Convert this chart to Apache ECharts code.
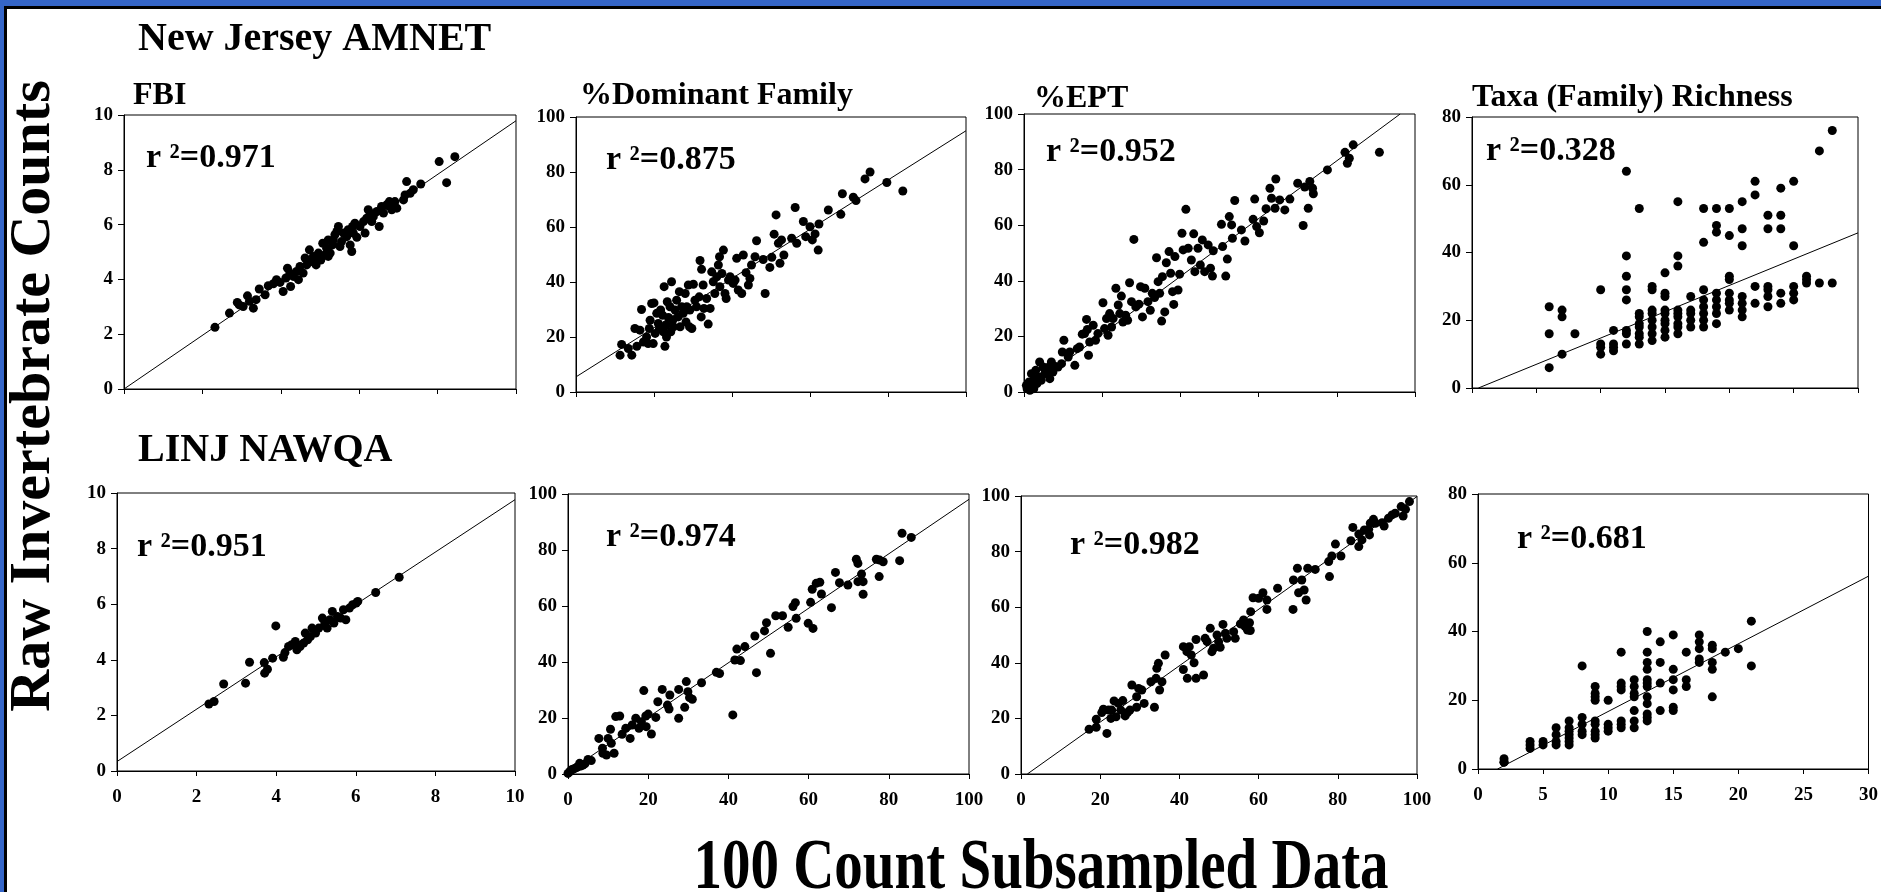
<!DOCTYPE html>
<html>
<head>
<meta charset="utf-8">
<title>Raw vs 100 count subsampled</title>
<script src="https://cdn.jsdelivr.net/npm/echarts@6/dist/echarts.min.js"></script>
<style>
html, body { margin: 0; padding: 0; }
#main { width: 1881px; height: 892px; }
</style>
</head>
<body>
<div id="main"></div>
<script>
// ---- data ----
const fbiNJ = [[2.32,2.25],[2.69,2.77],[2.89,3.16],[2.94,3.07],[3.04,3.01],[3.15,3.40],[3.20,3.20],[3.30,2.95],[3.37,3.26],[3.45,3.65],
  [3.60,3.44],[3.68,3.77],[3.81,3.84],[3.89,3.99],[3.98,3.89],[4.06,3.56],[4.13,4.05],[4.17,4.41],[4.23,4.23],[4.25,3.74],[4.32,4.11],
  [4.40,4.29],[4.45,3.99],[4.49,4.47],[4.57,4.23],[4.62,4.78],[4.66,4.53],[4.73,5.08],[4.79,4.65],[4.83,4.84],[4.90,4.53],[4.96,4.96],
  [4.96,4.71],[5.02,4.71],[5.07,5.32],[5.13,4.90],[5.17,5.14],[5.21,5.44],[5.21,4.84],[5.26,4.96],[5.32,5.26],[5.34,5.44],[5.38,5.63],
  [5.43,5.75],[5.47,5.93],[5.51,5.20],[5.55,5.38],[5.60,5.69],[5.68,5.56],[5.72,5.81],[5.77,5.26],[5.81,5.02],[5.83,5.93],[5.85,5.69],
  [5.89,6.05],[5.94,5.54],[6.02,5.93],[6.11,6.11],[6.15,5.69],[6.19,6.23],[6.23,6.54],[6.28,6.42],[6.32,6.11],[6.36,6.29],[6.45,6.48],
  [6.51,5.93],[6.57,6.66],[6.62,6.42],[6.70,6.72],[6.77,6.84],[6.79,6.66],[6.83,6.54],[6.91,6.84],[6.96,6.60],[7.13,6.90],[7.17,7.08],
  [7.21,7.57],[7.30,7.14],[7.38,7.27],[7.57,7.48],[8.04,8.30],[8.23,7.53],[8.44,8.48]];
const domNJ = [[11.3,13.4],[11.7,17.3],[13.4,15.8],[14.3,13.4],[15.1,23.1],[15.6,16.6],[16.4,22.5],[16.8,30.0],[17.3,18.2],[18.1,20.0],
  [18.5,17.6],[18.8,23.1],[19.0,26.1],[19.4,32.2],[19.8,17.6],[20.0,32.4],[20.3,21.3],[20.7,28.6],[21.1,24.9],[21.4,23.1],[21.7,29.8],
  [22.2,27.9],[22.4,21.9],[22.6,38.3],[22.8,16.6],[23.1,24.3],[23.2,20.0],[23.4,32.8],[23.7,27.1],[24.1,31.0],[24.3,21.9],[24.5,40.1],
  [24.8,26.1],[25.0,23.7],[25.4,29.8],[25.8,33.4],[26.2,27.3],[26.5,36.5],[26.7,23.7],[27.1,31.0],[27.5,28.6],[28.0,35.8],[28.2,25.5],
  [28.4,31.0],[28.8,38.9],[29.1,23.7],[29.2,29.8],[29.7,23.1],[30.1,39.2],[30.5,33.4],[30.9,31.0],[31.6,34.6],[31.8,47.8],[32.1,27.3],
  [32.2,44.6],[32.6,38.9],[32.8,30.4],[33.5,34.0],[33.9,24.7],[34.4,30.4],[34.8,43.7],[35.2,40.1],[35.6,35.8],[36.1,41.9],[36.5,46.2],
  [36.8,49.2],[36.9,38.3],[37.4,43.1],[37.8,51.6],[38.2,35.8],[38.5,34.0],[39.1,40.7],[39.5,41.9],[40.3,39.5],[40.8,40.7],[41.2,48.6],
  [41.6,37.1],[42.5,35.8],[42.9,49.8],[43.6,43.4],[44.2,38.9],[44.6,41.3],[45.0,46.2],[45.9,49.2],[46.3,55.0],[48.0,48.2],[48.5,35.8],
  [49.7,45.3],[50.2,49.0],[50.8,57.4],[51.3,64.4],[51.9,54.1],[52.3,46.8],[52.7,55.3],[53.3,49.8],[55.3,55.9],[56.2,67.1],[56.6,54.1],
  [58.3,62.0],[58.9,56.5],[60.0,60.1],[60.6,55.3],[61.3,57.5],[62.1,51.6],[62.3,61.1],[64.7,66.2],[67.9,64.6],[68.3,72.1],[71.1,70.8],
  [71.8,69.6],[74.1,77.5],[75.4,80.0],[79.7,76.2],[83.8,73.1]];
const eptNJ = [[0.6,2.4],[0.8,1.2],[1.3,3.6],[1.5,0.6],[1.9,6.6],[2.1,2.4],[2.5,1.2],[2.7,4.8],[3.0,7.8],[3.3,3.0],[3.8,5.4],[4.0,10.8],
  [4.4,4.2],[4.9,9.0],[5.3,6.6],[5.7,7.2],[6.1,8.8],[6.6,4.8],[7.0,10.8],[7.4,7.2],[7.8,9.3],[8.7,9.0],[9.6,10.2],[9.8,14.4],[10.2,18.6],
  [11.3,12.6],[11.7,14.4],[13.0,9.6],[13.6,15.6],[14.2,16.2],[14.9,20.8],[15.5,21.0],[16.0,26.1],[16.2,22.5],[16.5,13.2],[16.8,18.0],
  [17.7,24.0],[18.3,18.6],[18.9,21.0],[20.2,32.1],[20.6,22.8],[21.1,26.4],[21.5,20.4],[21.9,28.2],[22.4,23.4],[22.8,26.4],[23.5,37.3],
  [24.1,31.3],[24.5,28.2],[24.9,34.5],[25.3,25.2],[26.0,27.6],[26.5,25.8],[27.0,39.3],[27.5,32.5],[28.1,54.9],[28.6,30.6],[29.4,31.6],
  [29.8,37.9],[30.3,27.0],[30.9,37.3],[31.7,32.5],[32.3,29.4],[32.8,35.5],[33.4,34.0],[33.9,48.3],[34.3,39.7],[34.7,35.5],[35.2,25.5],
  [35.4,41.5],[36.0,28.8],[36.4,46.5],[37.1,50.5],[37.5,42.7],[38.0,36.1],[38.3,31.5],[38.6,48.7],[39.4,36.7],[39.8,42.4],[40.4,57.1],
  [40.7,51.1],[41.4,65.7],[42.0,51.7],[42.8,47.5],[43.4,56.9],[43.7,43.3],[44.5,51.7],[45.1,45.7],[45.6,54.7],[46.2,43.3],[47.1,52.9],
  [47.7,44.5],[48.2,41.7],[48.4,50.8],[50.5,60.3],[50.8,52.3],[51.6,41.7],[52.0,47.8],[52.5,63.1],[53.1,60.1],[53.3,55.3],[53.9,68.9],
  [55.6,58.3],[56.5,54.3],[58.6,62.1],[59.0,69.4],[59.5,59.5],[60.2,57.3],[61.3,61.5],[61.9,65.9],[62.9,73.3],[63.3,69.7],[64.2,66.1],
  [64.4,76.6],[65.4,69.1],[66.7,65.5],[68.0,69.4],[70.0,75.1],[71.4,59.9],[71.8,73.7],[72.7,66.1],[73.1,75.7],[73.8,73.3],[74.0,71.3],
  [77.6,79.9],[82.1,86.2],[82.7,82.3],[83.2,84.1],[84.2,88.9],[90.9,86.2]];
const taxaNJ = [[6,24],[6,16],[6,6],[7,23],[7,21],[7,10],[8,16],[10,29],[10,13],[10,12],[10,10],[11,17],[11,13],[11,12],[11,11],
  [12,64],[12,39],[12,33],[12,29],[12,26],[12,17],[12,16],[12,13],[13,53],[13,22],[13,21],[13,19],[13,18],[13,16],[13,15],[13,13],
  [14,30],[14,29],[14,23],[14,22],[14,20],[14,18],[14,16],[14,14],[15,34],[15,28],[15,27],[15,23],[15,22],[15,20],[15,19],[15,17],[15,15],
  [16,55],[16,39],[16,36],[16,23],[16,22],[16,21],[16,19],[16,18],[16,16],[17,27],[17,23],[17,22],[17,20],[17,18],
  [18,53],[18,43],[18,29],[18,26],[18,24],[18,22],[18,20],[18,18],[19,53],[19,48],[19,46],[19,28],[19,26],[19,24],[19,22],[19,19],
  [20,53],[20,45],[20,33],[20,32],[20,28],[20,26],[20,25],[20,23],[21,55],[21,47],[21,42],[21,27],[21,25],[21,23],[21,21],
  [22,61],[22,57],[22,30],[22,25],[23,51],[23,47],[23,30],[23,29],[23,27],[23,24],[24,59],[24,51],[24,47],[24,28],[24,25],
  [25,61],[25,42],[25,30],[25,28],[25,26],[26,33],[26,32],[26,31],[27,70],[27,31],[28,76],[28,31]];
const fbiLI = [[2.31,2.41],[2.44,2.50],[2.68,3.13],[3.23,3.16],[3.33,3.91],[3.70,3.90],[3.71,3.52],[3.78,3.66],[3.91,4.06],[3.99,5.22],
  [4.18,4.09],[4.22,4.26],[4.31,4.48],[4.39,4.54],[4.48,4.66],[4.52,4.36],[4.60,4.48],[4.69,4.60],[4.73,4.96],[4.79,4.72],[4.86,4.84],
  [4.90,5.14],[4.99,4.96],[5.07,5.14],[5.16,5.50],[5.22,5.32],[5.28,5.14],[5.35,5.44],[5.41,5.74],[5.45,5.32],[5.54,5.56],[5.62,5.50],
  [5.69,5.80],[5.75,5.44],[5.84,5.86],[5.92,5.98],[6.01,6.04],[6.05,6.10],[6.50,6.42],[7.09,6.97]];
const domLI = [[0.0,0.2],[0.4,0.8],[0.8,1.4],[1.2,1.7],[1.7,2.0],[2.1,2.3],[2.5,2.6],[2.9,3.8],[3.3,2.9],[3.7,3.2],[4.2,3.6],[5.0,5.2],
  [5.8,4.8],[7.7,12.7],[8.6,9.2],[8.7,7.4],[9.6,6.8],[10.0,12.7],[10.6,16.0],[10.8,11.0],[11.5,7.4],[11.9,20.5],[12.9,20.7],[13.5,14.2],
  [14.4,16.3],[15.5,12.7],[16.0,17.5],[16.9,19.9],[17.7,16.3],[18.3,18.7],[18.9,29.8],[19.4,20.7],[19.5,16.9],[20.0,21.4],[20.8,14.3],
  [21.9,20.2],[22.4,25.8],[23.5,30.2],[24.8,24.6],[25.2,23.2],[25.4,28.2],[27.6,30.2],[27.6,19.9],[29.1,23.8],[29.5,33.0],[29.9,29.4],
  [30.3,27.3],[31.0,26.7],[33.3,32.6],[37.0,36.3],[37.8,35.9],[41.1,21.1],[41.6,40.7],[42.1,44.6],[43.0,40.5],[44.1,45.5],[46.6,49.3],
  [47.0,36.2],[49.0,51.1],[49.5,54.0],[50.5,43.1],[51.8,56.5],[53.5,56.5],[54.9,52.4],[56.1,59.8],[56.7,61.2],[56.9,55.6],[59.9,53.8],
  [60.5,61.3],[60.9,66.0],[61.1,52.0],[61.9,68.1],[62.8,68.5],[63.2,64.3],[65.7,59.4],[66.7,72.0],[67.7,68.3],[69.8,67.5],[71.9,76.7],
  [72.3,75.2],[72.3,68.7],[73.2,71.4],[73.6,68.7],[73.6,64.2],[76.9,76.7],[77.6,70.5],[77.7,76.4],[78.6,75.8],[82.7,76.2],[83.3,86.0],
  [85.6,84.5]];
const eptLI = [[17.2,16.1],[19.0,16.8],[19.0,19.7],[20.4,22.1],[20.8,23.3],[21.7,14.6],[22.1,23.0],[22.7,20.0],[22.9,23.0],[23.5,26.3],
  [24.0,20.6],[24.6,25.4],[25.2,23.0],[25.7,26.4],[26.3,20.9],[26.9,22.1],[27.5,23.0],[28.0,32.0],[29.2,24.0],[29.2,27.8],[29.7,30.8],
  [30.5,30.2],[31.1,25.4],[32.8,33.2],[33.7,24.0],[34.1,34.4],[34.3,38.0],[34.7,39.8],[35.0,30.2],[35.6,33.2],[36.4,42.8],[41.0,45.8],
  [41.0,37.6],[41.9,44.0],[42.0,34.4],[42.5,45.8],[43.0,42.8],[43.7,40.0],[44.2,48.4],[44.2,34.4],[46.1,35.6],[46.5,48.8],[47.0,47.6],
  [47.8,52.4],[48.2,44.0],[48.6,45.2],[49.5,50.0],[49.9,47.6],[50.3,45.6],[51.0,53.8],[51.6,50.6],[52.0,48.8],[53.7,51.2],[54.1,48.8],
  [55.4,54.0],[56.2,55.4],[56.6,53.0],[57.2,51.8],[57.7,54.4],[57.9,51.6],[58.0,58.4],[58.6,63.4],[60.0,63.2],[61.1,65.2],[62.1,62.6],
  [62.1,59.2],[64.8,66.8],[68.7,59.2],[68.8,69.8],[69.8,74.0],[70.1,65.2],[70.9,69.8],[71.5,66.2],[72.0,62.6],[72.4,74.0],[74.3,73.6],
  [77.7,76.4],[77.9,71.0],[78.5,78.4],[79.4,82.7],[80.8,78.4],[83.3,83.9],[83.8,88.7],[85.3,81.8],[85.3,86.3],[86.1,84.2],[86.7,87.8],
  [87.8,88.0],[88.0,86.0],[88.2,90.2],[89.0,91.6],[89.5,90.2],[91.2,90.4],[91.7,89.2],[92.8,92.0],[93.7,93.2],[94.5,93.8],[96.0,96.2],
  [96.5,92.8],[97.1,95.2],[98.1,98.0]];
const taxaLI = [[2,3],[2,2],[2,2],[4,8],[4,7],[4,6],[5,8],[5,7],[6,12],[6,10],[6,8],[6,7],[7,14],[7,12],[7,11],[7,10],[7,9],[7,8],[7,7],
  [8,30],[8,15],[8,13],[8,11],[8,10],[9,24],[9,22],[9,21],[9,20],[9,14],[9,13],[9,11],[9,10],[9,9],[10,20],[10,13],[10,12],[10,11],
  [11,34],[11,25],[11,24],[11,23],[11,14],[11,13],[11,12],[12,26],[12,24],[12,22],[12,21],[12,17],[12,14],[12,12],
  [13,40],[13,34],[13,31],[13,29],[13,26],[13,25],[13,24],[13,21],[13,19],[13,16],[13,15],[13,14],[14,37],[14,31],[14,25],[14,17],
  [15,39],[15,29],[15,26],[15,23],[15,18],[15,17],[16,34],[16,26],[16,24],[17,39],[17,37],[17,35],[17,32],[17,31],
  [18,36],[18,35],[18,31],[18,29],[18,21],[19,34],[20,35],[21,43],[21,30]];

// fitted lines (end points, data units)
const fitFbiNJ = [[0, 0.0], [10, 9.79]];
const fitDomNJ = [[0, 5.5], [100, 95.0]];
const fitEptNJ = [[0, 0.0], [96.2, 100]];
const fitTaxaNJ = [[0.5, 0], [30, 45.8]];
const fitFbiLI = [[0, 0.34], [10, 9.76]];
const fitDomLI = [[0, 0.8], [100, 98.1]];
const fitEptLI = [[1.6, 0], [100, 99.8]];
const fitTaxaLI = [[1.5, 0], [30, 56.1]];

const r2Labels = ['0.971', '0.875', '0.952', '0.328', '0.951', '0.974', '0.982', '0.681'];
const panelTitles = ['FBI', '%Dominant Family', '%EPT', 'Taxa (Family) Richness'];
const xMaxes = [10, 100, 100, 30, 10, 100, 100, 30];
const xSteps = [2, 20, 20, 5, 2, 20, 20, 5];
const yMaxes = [10, 100, 100, 80, 10, 100, 100, 80];
const ySteps = [2, 20, 20, 20, 2, 20, 20, 20];

const seriesData = [fbiNJ, domNJ, eptNJ, taxaNJ, fbiLI, domLI, eptLI, taxaLI];
const fitData = [fitFbiNJ, fitDomNJ, fitEptNJ, fitTaxaNJ, fitFbiLI, fitDomLI, fitEptLI, fitTaxaLI];

// ---- layout ----
const FONT = '"Liberation Serif", "Times New Roman", serif';
const boxes = [
  [124, 115, 392, 274], [576, 117, 390, 275], [1024, 114, 391, 278], [1472, 117, 386, 271],
  [117, 493, 398, 278], [568, 494, 401, 280], [1021, 496, 396, 278], [1478, 494, 394, 275]
];
const r2Pos = [[146, 158], [606, 160], [1046, 152], [1486, 151], [137, 547], [606, 537], [1070, 545], [1517, 539]];
const titlePos = [[133, 96], [580, 96], [1034, 99], [1472, 98]];

let myChart = echarts.init(document.getElementById('main'));

let grids = [], xAxes = [], yAxes = [], series = [];
let graphics = [
  { type: 'rect', z: -10, shape: { x: 5.5, y: 7.5, width: 1900, height: 900 },
    style: { fill: '#fff', stroke: '#000', lineWidth: 3 } },
  { type: 'text', x: 138, y: 40, style: { text: 'New Jersey AMNET', font: 'bold 40px ' + FONT, fill: '#000', verticalAlign: 'middle' } },
  { type: 'text', x: 138, y: 451, style: { text: 'LINJ NAWQA', font: 'bold 40px ' + FONT, fill: '#000', verticalAlign: 'middle' } },
  { type: 'text', x: 34, y: 396, rotation: Math.PI / 2,
    style: { text: 'Raw Invertebrate Counts', font: 'bold 58px ' + FONT, fill: '#000', align: 'center', verticalAlign: 'middle' } },
  { type: 'text', x: 1041, y: 870, scaleY: 1.25,
    style: { text: '100 Count Subsampled Data', font: 'bold 57px ' + FONT, fill: '#000', align: 'center', verticalAlign: 'middle' } }
];

for (let i = 0; i < 8; i++) {
  let b = boxes[i];
  grids.push({ left: b[0], top: b[1], width: b[2], height: b[3], show: true,
    borderColor: '#000', borderWidth: 1, backgroundColor: '#fff' });
  xAxes.push({
    gridIndex: i, type: 'value', min: 0, max: xMaxes[i], interval: xSteps[i],
    axisLine: { onZero: false, lineStyle: { color: '#000', width: 1 } },
    axisTick: { show: true, length: 5, lineStyle: { color: '#000' } },
    splitLine: { show: false },
    axisLabel: { show: i >= 4, margin: 17, color: '#000', fontFamily: FONT, fontWeight: 'bold', fontSize: 19 }
  });
  yAxes.push({
    gridIndex: i, type: 'value', min: 0, max: yMaxes[i], interval: ySteps[i],
    axisLine: { show: true, onZero: false, lineStyle: { color: '#000', width: 1 } },
    axisTick: { show: true, length: 6, lineStyle: { color: '#000' } },
    splitLine: { show: false },
    axisLabel: { margin: 11, color: '#000', fontFamily: FONT, fontWeight: 'bold', fontSize: 19 }
  });
  series.push({
    type: 'scatter', xAxisIndex: i, yAxisIndex: i, data: seriesData[i],
    symbol: 'circle', symbolSize: 9, itemStyle: { color: '#000', opacity: 1 }, silent: true, z: 3
  });
  series.push({
    type: 'line', xAxisIndex: i, yAxisIndex: i, data: fitData[i],
    showSymbol: false, lineStyle: { color: '#000', width: 1 }, silent: true, z: 2
  });
  graphics.push({ type: 'text', x: r2Pos[i][0], y: r2Pos[i][1],
    style: { text: 'r \u00b2=' + r2Labels[i], font: 'bold 34px ' + FONT, fill: '#000', verticalAlign: 'middle' } });
}
for (let j = 0; j < 4; j++) {
  graphics.push({ type: 'text', x: titlePos[j][0], y: titlePos[j][1],
    style: { text: panelTitles[j], font: 'bold 32px ' + FONT, fill: '#000', verticalAlign: 'middle' } });
}

let option = {
  backgroundColor: '#3566c8',
  animation: false,
  grid: grids,
  xAxis: xAxes,
  yAxis: yAxes,
  series: series,
  graphic: { elements: graphics }
};
myChart.setOption(option, true);
window.onresize = myChart.resize;
</script>
</body>
</html>
